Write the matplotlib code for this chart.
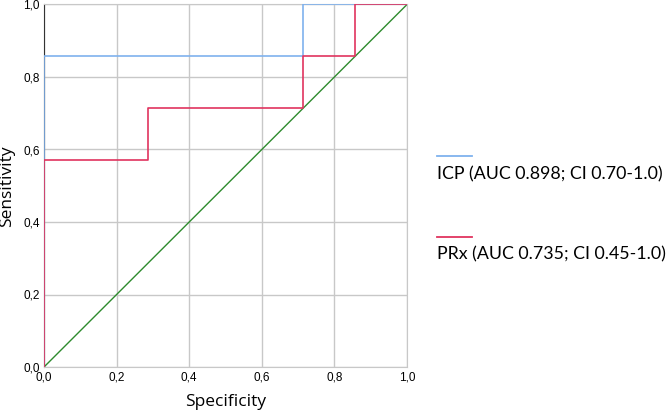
import matplotlib
matplotlib.use("Agg")
from matplotlib import pyplot as plt
from matplotlib.lines import Line2D

# ROC step points (1 - specificity on x, sensitivity on y)
icp_x = [0.0, 0.0, 0.714, 0.714, 1.0]
icp_y = [0.0, 0.857, 0.857, 1.0, 1.0]
prx_x = [0.0, 0.0, 0.286, 0.286, 0.714, 0.714, 0.857, 0.857, 1.0]
prx_y = [0.0, 0.571, 0.571, 0.714, 0.714, 0.857, 0.857, 1.0, 1.0]
ref_x = [0.0, 1.0]
ref_y = [0.0, 1.0]

icp_label = "ICP (AUC 0.898; CI 0.70-1.0)"
prx_label = "PRx (AUC 0.735; CI 0.45-1.0)"
ticks = [0.0, 0.2, 0.4, 0.6, 0.8, 1.0]
tick_labels = ["0,0", "0,2", "0,4", "0,6", "0,8", "1,0"]

blue = "#7fb2ee"
red = "#e0345f"
green = "#2e8b2e"

fig = plt.figure(figsize=(6.68, 4.15), dpi=100)
ax = fig.add_axes([44 / 668, 1 - 367 / 415, 363 / 668, 362.5 / 415])

ax.plot(ref_x, ref_y, color=green, lw=1.0, zorder=2)
ax.plot(icp_x, icp_y, color=blue, lw=1.2, zorder=3)
ax.plot(prx_x, prx_y, color=red, lw=1.2, zorder=4)

ax.set_xlim(0, 1)
ax.set_ylim(0, 1)
ax.set_xticks(ticks)
ax.set_yticks(ticks)
ax.set_xticklabels(tick_labels, fontsize=8.5, family="Liberation Sans")
ax.set_yticklabels(tick_labels, fontsize=8.5, family="Liberation Sans")
ax.tick_params(length=0, pad=3)
ax.grid(True, color="#c8c8c8", lw=1.0)
ax.set_axisbelow(True)
for side in ["top", "right", "bottom"]:
    ax.spines[side].set_color("#c8c8c8")
ax.spines["left"].set_color("#333333")

ax.set_xlabel("Specificity", fontsize=12.5, family="Open Sans", labelpad=8)
ax.set_ylabel("Sensitivity", fontsize=12.5, family="Open Sans", labelpad=6)

# legend drawn by hand: short line over text
fig.add_artist(Line2D([437 / 668, 472 / 668], [1 - 156 / 415, 1 - 156 / 415],
                      color=blue, lw=1.3))
fig.text(437 / 668, 1 - 174 / 415, icp_label, fontsize=12.8, family="Lato",
         va="center", ha="left")
fig.add_artist(Line2D([437 / 668, 472 / 668], [1 - 237 / 415, 1 - 237 / 415],
                      color=red, lw=1.3))
fig.text(437 / 668, 1 - 254 / 415, prx_label, fontsize=12.8, family="Lato",
         va="center", ha="left")

fig.savefig("out.png", dpi=100)
